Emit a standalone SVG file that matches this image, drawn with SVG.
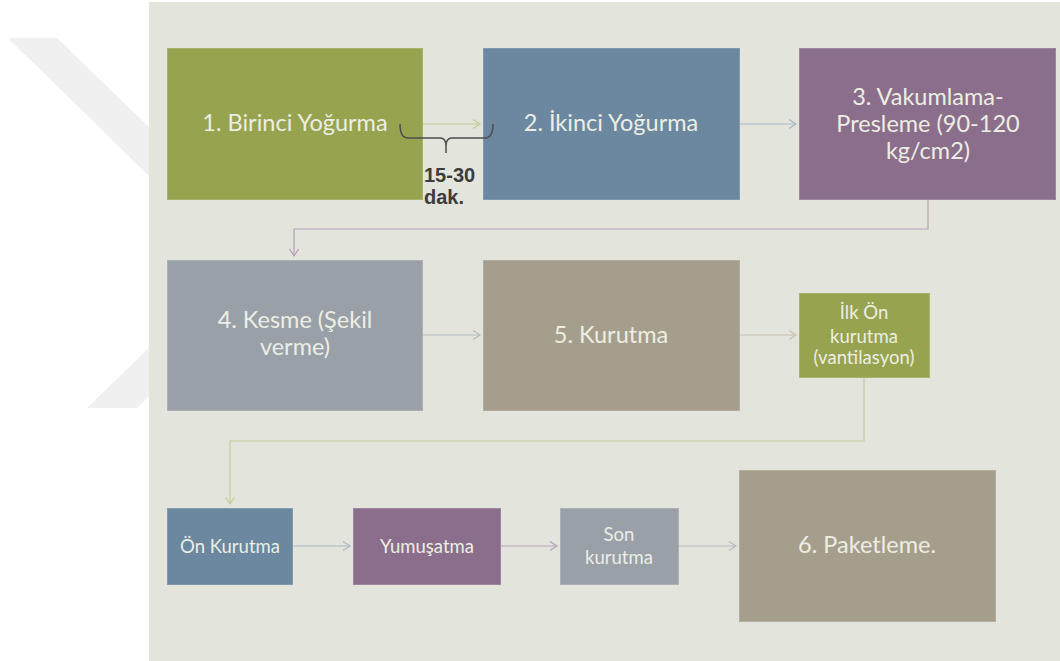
<svg xmlns="http://www.w3.org/2000/svg" width="1060" height="661" viewBox="0 0 1060 661">
<defs>
<style>
.t{font-family:Lato,"Open Sans","Noto Sans",sans-serif;fill:#eceee4;text-anchor:middle}
.big{font-size:23.5px}
.sm{font-size:18.5px}
.box{stroke-width:1}
.c{fill:none;stroke-width:1.2}
.lbl{font-family:"Liberation Sans",Arial,sans-serif;font-weight:bold;font-size:20px;fill:#3c3c3c}
</style>
<marker id="mg" markerUnits="userSpaceOnUse" markerWidth="12" markerHeight="12" refX="8" refY="5" orient="auto"><path d="M1,0.5 L8,5 L1,9.5" fill="none" stroke="#c3cb98" stroke-width="1.2"/></marker>
<marker id="mb" markerUnits="userSpaceOnUse" markerWidth="12" markerHeight="12" refX="8" refY="5" orient="auto"><path d="M1,0.5 L8,5 L1,9.5" fill="none" stroke="#a7b7c6" stroke-width="1.2"/></marker>
<marker id="mp" markerUnits="userSpaceOnUse" markerWidth="12" markerHeight="12" refX="8" refY="5" orient="auto"><path d="M1,0.5 L8,5 L1,9.5" fill="none" stroke="#b59fb5" stroke-width="1.2"/></marker>
<marker id="my" markerUnits="userSpaceOnUse" markerWidth="12" markerHeight="12" refX="8" refY="5" orient="auto"><path d="M1,0.5 L8,5 L1,9.5" fill="none" stroke="#b6bbc1" stroke-width="1.2"/></marker>
<marker id="mt" markerUnits="userSpaceOnUse" markerWidth="12" markerHeight="12" refX="8" refY="5" orient="auto"><path d="M1,0.5 L8,5 L1,9.5" fill="none" stroke="#c6c0b1" stroke-width="1.2"/></marker>
</defs>
<rect x="0" y="0" width="1060" height="661" fill="#ffffff"/>
<g id="watermark" fill="#f0f0f0">
<polygon points="8,38 57,38 150,128 150,177"/>
<polygon points="150,347 87,408 137,408 150,395"/>
</g>
<rect x="149" y="2" width="911" height="659" fill="#e3e4dc"/>
<g id="connectors">
<line class="c" x1="422" y1="124" x2="480" y2="124" stroke="#c3cb98" marker-end="url(#mg)"/>
<line class="c" x1="739" y1="124" x2="796" y2="124" stroke="#a7b7c6" marker-end="url(#mb)"/>
<polyline class="c" points="928,200 928,229 294,229 294,256" stroke="#b59fb5" marker-end="url(#mp)"/>
<line class="c" x1="422" y1="335" x2="480" y2="335" stroke="#b6bbc1" marker-end="url(#my)"/>
<line class="c" x1="739" y1="335" x2="796" y2="335" stroke="#c6c0b1" marker-end="url(#mt)"/>
<polyline class="c" points="864,377 864,441 230,441 230,504" stroke="#c3cb98" marker-end="url(#mg)"/>
<line class="c" x1="292" y1="546" x2="350" y2="546" stroke="#a7b7c6" marker-end="url(#mb)"/>
<line class="c" x1="500" y1="546" x2="557" y2="546" stroke="#b59fb5" marker-end="url(#mp)"/>
<line class="c" x1="678" y1="546" x2="736" y2="546" stroke="#b6bbc1" marker-end="url(#my)"/>
</g>
<g id="n1"><rect class="box" x="167.5" y="48.5" width="255" height="151" fill="#97a34f" stroke="#a9b36a"/><text class="t big" x="295" y="131">1. Birinci Yoğurma</text></g>
<g id="n2"><rect class="box" x="483.5" y="48.5" width="256" height="151" fill="#6b88a0" stroke="#8298ac"/><text class="t big" x="611" y="131">2. İkinci Yoğurma</text></g>
<g id="n3"><rect class="box" x="799.5" y="48.5" width="256" height="151" fill="#8b6e8b" stroke="#9d859d"/><text class="t big" x="928" y="105">3. Vakumlama-</text><text class="t big" x="928" y="132">Presleme (90-120</text><text class="t big" x="928" y="159">kg/cm2)</text></g>
<g id="n4"><rect class="box" x="167.5" y="260.5" width="255" height="150" fill="#9aa0a8" stroke="#acb1b7"/><text class="t big" x="295" y="328">4. Kesme (Şekil</text><text class="t big" x="295" y="355">verme)</text></g>
<g id="n5"><rect class="box" x="483.5" y="260.5" width="256" height="150" fill="#a69e8c" stroke="#b4ad9d"/><text class="t big" x="611" y="343">5. Kurutma</text></g>
<g id="n6"><rect class="box" x="799.5" y="293.5" width="130" height="84" fill="#97a34f" stroke="#a9b36a"/><text class="t sm" x="864" y="319">İlk Ön</text><text class="t sm" x="864" y="343">kurutma</text><text class="t sm" x="864" y="364">(vantilasyon)</text></g>
<g id="n7"><rect class="box" x="167.5" y="508.5" width="125" height="76" fill="#6b88a0" stroke="#8298ac"/><text class="t sm" x="230" y="553">Ön Kurutma</text></g>
<g id="n8"><rect class="box" x="353.5" y="508.5" width="147" height="76" fill="#8b6e8b" stroke="#9d859d"/><text class="t sm" x="427" y="553">Yumuşatma</text></g>
<g id="n9"><rect class="box" x="560.5" y="508.5" width="118" height="76" fill="#9aa0a8" stroke="#acb1b7"/><text class="t sm" x="619" y="541">Son</text><text class="t sm" x="619" y="564">kurutma</text></g>
<g id="n10"><rect class="box" x="739.5" y="470.5" width="256" height="151" fill="#a69e8c" stroke="#b4ad9d"/><text class="t big" x="867" y="553">6. Paketleme.</text></g>
<g id="brace">
<path d="M400,124 Q400,138 408,138 L440,138 Q446,138 446,146 L446,153 M446,146 Q446,138 452,138 L485,138 Q493,138 493,124" fill="none" stroke="#4e4e4e" stroke-width="1.5"/>
<text class="lbl" x="424" y="182">15-30</text>
<text class="lbl" x="424" y="204">dak.</text>
</g>
</svg>
